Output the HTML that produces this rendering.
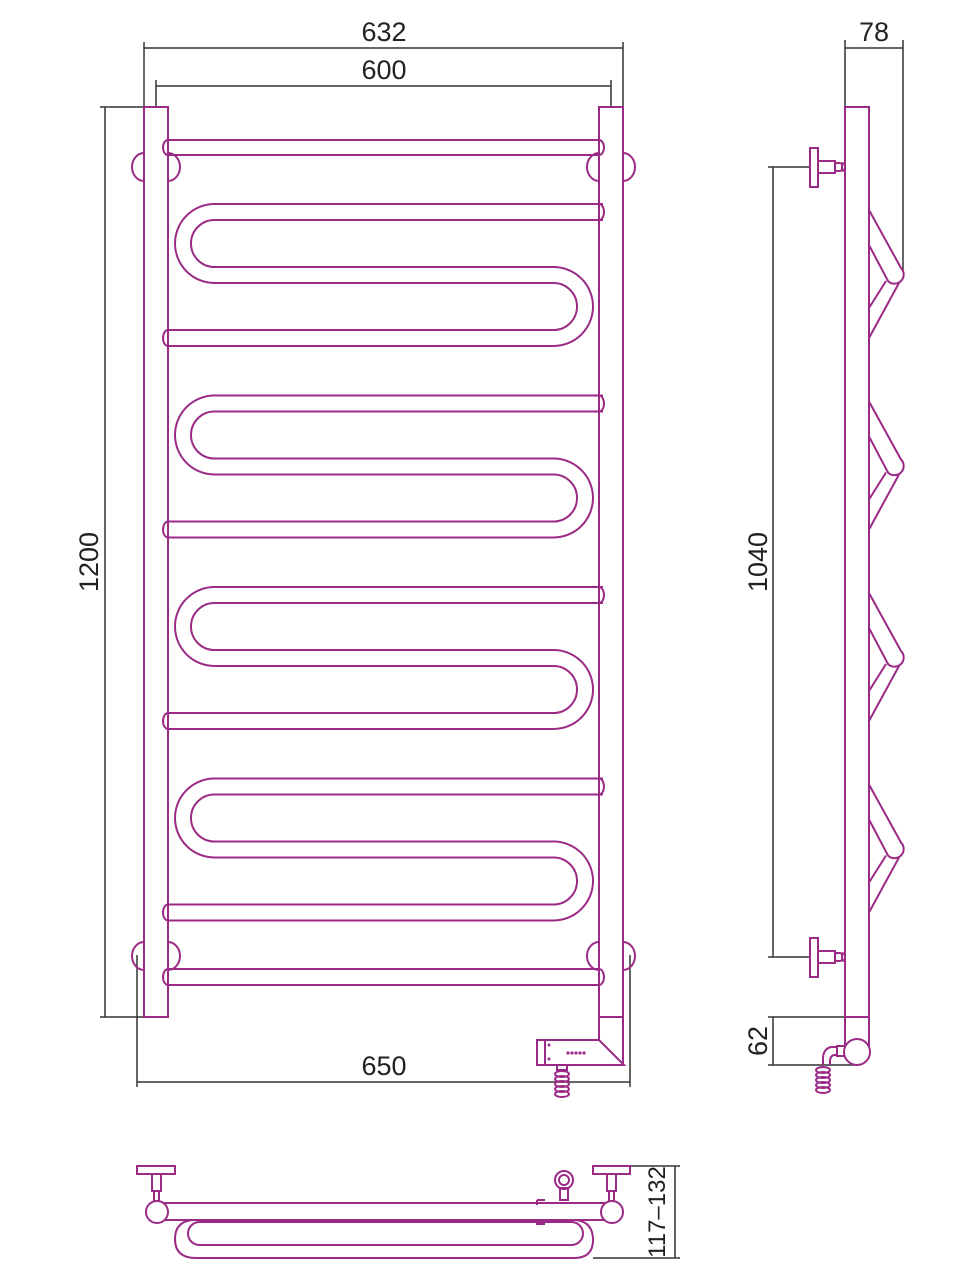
<!DOCTYPE html>
<html><head><meta charset="utf-8"><style>
html,body{margin:0;padding:0;background:#fff;width:979px;height:1280px;overflow:hidden}
svg{display:block}
text{font-family:"Liberation Sans",sans-serif;font-size:27px;fill:#222}
</style></head><body>
<svg width="979" height="1280" viewBox="0 0 979 1280" xmlns="http://www.w3.org/2000/svg">
<defs>
<g id="serp" fill="none" stroke="#9a2a86" stroke-width="2">
<path d="M603,204 H214.5 A39.5,39.5 0 0 0 214.5,283 H553.5 A23.5,23.5 0 0 1 553.5,330 H168"/>
<path d="M603,220 H214.5 A23.5,23.5 0 0 0 214.5,267 H553.5 A39.5,39.5 0 0 1 553.5,346 H168"/>
<path d="M599,204 A5,8 0 0 1 599,220"/>
<path d="M168,330 A5,8 0 0 0 168,346"/>
</g>
<g id="diag" fill="none" stroke="#9a2a86" stroke-width="2">
<path d="M869,210 L901,268 A8,8 0 0 1 888,281 L869,245"/>
<path d="M886,281 L869,308"/>
<path d="M899,283 L869,338"/>
</g>
<g id="brk" fill="none" stroke="#9a2a86" stroke-width="2">
<rect x="810" y="-19" width="8" height="39"/>
<rect x="818" y="-6" width="17" height="12"/>
<rect x="835" y="-4" width="7" height="8" rx="2"/>
<path d="M842,-4 A3,4 0 0 1 842,4"/>
</g>
<g id="coil" fill="none" stroke="#9a2a86" stroke-width="2">
<ellipse cx="0" cy="0" rx="7" ry="3"/>
<ellipse cx="0" cy="5" rx="7" ry="3"/>
<ellipse cx="0" cy="10" rx="7" ry="3"/>
<ellipse cx="0" cy="15" rx="7" ry="3"/>
<ellipse cx="0" cy="20" rx="7" ry="3"/>
</g>
</defs>

<g stroke="#333" stroke-width="1.5" fill="none">
<path d="M144,42 V107 M623,42 V107 M144,48 H623"/>
<path d="M156,80 V107 M611,80 V107 M156,86 H611"/>
<path d="M100,107 H144 M100,1017 H144 M105,107 V1017"/>
<path d="M137,955 V1087 M630,955 V1087 M137,1082 H630"/>
<path d="M845,40 V107 M903,40 V272 M845,48 H903"/>
<path d="M768,167 H810 M768,957 H810 M773,167 V957"/>
<path d="M768,1017 H845 M768,1065 H857 M773,1017 V1065"/>
<path d="M625,1166 H680 M593,1258 H680 M675,1166 V1258"/>
</g>
<text x="384" y="41" text-anchor="middle">632</text>
<text x="384" y="79" text-anchor="middle">600</text>
<text x="384" y="1075" text-anchor="middle">650</text>
<text x="874" y="41" text-anchor="middle">78</text>
<text transform="translate(98,562) rotate(-90)" text-anchor="middle">1200</text>
<text transform="translate(767,562) rotate(-90)" text-anchor="middle">1040</text>
<text transform="translate(767,1041) rotate(-90)" text-anchor="middle">62</text>
<text transform="translate(665,1212) rotate(-90)" text-anchor="middle" style="font-size:24px">117–132</text>

<g fill="none" stroke="#9a2a86" stroke-width="2">
<rect x="144" y="107" width="24" height="910"/>
<path d="M599,1040 V107 H623 V1065"/>
<path d="M599,1017 H623"/>
<path d="M168,140 H599 M168,155 H599 M168,140 A5,7.5 0 0 0 168,155 M599,140 A5,7.5 0 0 1 599,155"/>
<path d="M168,969 H599 M168,985 H599 M168,969 A5,8 0 0 0 168,985 M599,969 A5,8 0 0 1 599,985"/>
<path d="M144,153 A12,14 0 0 0 144,181 M168,153 A12,14 0 0 1 168,181"/>
<path d="M599,153 A12,14 0 0 0 599,181 M623,153 A12,14 0 0 1 623,181"/>
<path d="M144,942 A12,14 0 0 0 144,970 M168,942 A12,14 0 0 1 168,970"/>
<path d="M599,942 A12,14 0 0 0 599,970 M623,942 A12,14 0 0 1 623,970"/>
<path d="M537,1040 H599 L624,1065 H537 Z M545,1040 V1065"/>
<path d="M557,1065 h10 v5 h-10z"/>
</g>
<use href="#coil" transform="translate(562,1074)"/>
<g fill="#9a2a86"><circle cx="549" cy="1045" r="1.5"/><circle cx="549" cy="1059" r="1.5"/>
<circle cx="568" cy="1053" r="1.6"/><circle cx="572" cy="1053" r="1.6"/><circle cx="576" cy="1053" r="1.6"/><circle cx="580" cy="1053" r="1.6"/><circle cx="584" cy="1053" r="1.6"/></g>
<use href="#serp"/>
<use href="#serp" transform="translate(0,191.5)"/>
<use href="#serp" transform="translate(0,383)"/>
<use href="#serp" transform="translate(0,574.5)"/>

<g fill="none" stroke="#9a2a86" stroke-width="2">
<path d="M845,1052 V107 H869 V1052"/>
<path d="M845,1017 H869"/>
<circle cx="857" cy="1052" r="13" fill="#fff"/>
<path d="M844,1046 h-7 v10 h7 M837,1047 h-6 q-8,2 -8,12 v6 M837,1055 h-3 q-4,1 -4,6 v4"/>
</g>
<use href="#coil" transform="translate(823,1070)"/>
<use href="#brk" transform="translate(0,167)"/>
<use href="#brk" transform="translate(0,957)"/>
<use href="#diag"/>
<use href="#diag" transform="translate(0,191.5)"/>
<use href="#diag" transform="translate(0,383)"/>
<use href="#diag" transform="translate(0,574.5)"/>

<g fill="none" stroke="#9a2a86" stroke-width="2">
<path d="M192,1220 Q175,1222 175,1239 Q175,1258 196,1258 H574 Q593,1258 593,1240 Q593,1222 576,1220"/>
<rect x="188" y="1222" width="395" height="23" rx="11.5"/>
<rect x="157" y="1203" width="455" height="17" fill="#fff"/>
<circle cx="157" cy="1212" r="11" fill="#fff"/>
<circle cx="612" cy="1212" r="11" fill="#fff"/>
<rect x="137" y="1166" width="38" height="8"/>
<rect x="152" y="1174" width="9" height="17"/>
<rect x="154" y="1191" width="5" height="10"/>
<rect x="593" y="1166" width="37" height="8"/>
<rect x="607" y="1174" width="9" height="17"/>
<rect x="609" y="1191" width="5" height="10"/>
<path d="M537,1200 H545 M537,1200 V1205 M537,1220 V1224 H545"/>
<circle cx="564" cy="1180" r="9"/>
<circle cx="564" cy="1180" r="5"/>
<rect x="560" y="1188" width="8" height="12"/>
</g>
</svg>
</body></html>
